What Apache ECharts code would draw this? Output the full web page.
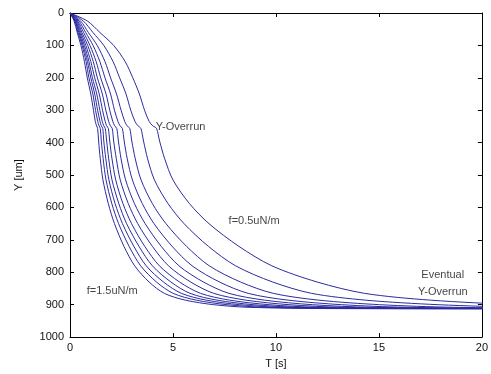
<!DOCTYPE html>
<html>
<head>
<meta charset="utf-8">
<script src="https://cdn.jsdelivr.net/npm/echarts@6/dist/echarts.min.js"></script>
<style>
  html, body { margin: 0; padding: 0; background: #fff; }
  #chart { width: 491px; height: 374px; }
</style>
</head>
<body>
<div id="chart"></div>
<script>
// Y levels (um) shared by all curves, and the time (s) each curve reaches them
const yLevels = [0, 25, 60, 100, 150, 200, 250, 300, 335, 348, 356, 395, 450, 515, 588, 650, 720, 780, 830, 865, 886, 900, 908, 912, 913];

const fValues = [0.5, 0.6, 0.7, 0.8, 0.9, 1.0, 1.1, 1.2, 1.3, 1.4, 1.5];

const tCurves = [
  [0, 0.85, 1.45, 2.12, 2.68, 3.05, 3.37, 3.62, 3.85, 4.02, 4.20, 4.35, 4.60, 5.00, 5.80, 6.75, 8.20, 9.80, 12.00, 14.30, 17.50, 21.80, 27.00, 40.0, 100],
  [0, 0.65, 1.11, 1.64, 2.09, 2.41, 2.72, 2.95, 3.16, 3.30, 3.44, 3.57, 3.77, 4.10, 4.76, 5.54, 6.72, 8.04, 9.84, 11.73, 14.35, 17.88, 22.14, 32.8, 100],
  [0, 0.52, 0.89, 1.32, 1.70, 1.97, 2.26, 2.48, 2.66, 2.77, 2.90, 3.00, 3.17, 3.45, 4.00, 4.66, 5.66, 6.76, 8.28, 9.87, 12.08, 15.04, 18.63, 27.6, 100],
  [0, 0.44, 0.76, 1.12, 1.45, 1.70, 1.97, 2.16, 2.33, 2.43, 2.54, 2.63, 2.78, 3.03, 3.51, 4.08, 4.96, 5.93, 7.26, 8.65, 10.59, 13.19, 16.34, 24.2, 100],
  [0, 0.38, 0.66, 0.97, 1.27, 1.49, 1.75, 1.93, 2.08, 2.17, 2.27, 2.35, 2.48, 2.70, 3.13, 3.65, 4.43, 5.29, 6.48, 7.72, 9.45, 11.77, 14.58, 21.6, 100],
  [0, 0.34, 0.58, 0.86, 1.13, 1.33, 1.57, 1.74, 1.88, 1.96, 2.05, 2.12, 2.25, 2.44, 2.83, 3.29, 4.00, 4.78, 5.86, 6.98, 8.54, 10.64, 13.18, 19.5, 100],
  [0, 0.30, 0.52, 0.77, 1.01, 1.20, 1.42, 1.58, 1.71, 1.78, 1.86, 1.93, 2.04, 2.22, 2.57, 2.99, 3.63, 4.34, 5.32, 6.34, 7.75, 9.66, 11.96, 17.7, 100],
  [0, 0.27, 0.47, 0.70, 0.92, 1.09, 1.30, 1.45, 1.57, 1.64, 1.71, 1.78, 1.88, 2.04, 2.37, 2.75, 3.35, 4.00, 4.90, 5.83, 7.14, 8.89, 11.02, 16.3, 100],
  [0, 0.25, 0.43, 0.64, 0.85, 1.01, 1.20, 1.34, 1.46, 1.52, 1.59, 1.64, 1.74, 1.89, 2.19, 2.55, 3.10, 3.70, 4.54, 5.41, 6.62, 8.24, 10.21, 15.1, 100],
  [0, 0.23, 0.39, 0.59, 0.78, 0.92, 1.11, 1.24, 1.35, 1.41, 1.47, 1.52, 1.61, 1.75, 2.03, 2.36, 2.87, 3.43, 4.20, 5.01, 6.13, 7.63, 9.45, 14.0, 100],
  [0, 0.20, 0.35, 0.53, 0.70, 0.84, 1.01, 1.14, 1.23, 1.29, 1.34, 1.39, 1.47, 1.60, 1.86, 2.16, 2.62, 3.14, 3.84, 4.58, 5.60, 6.98, 8.64, 12.8, 100],
];

// annotations in data coordinates
const noteTexts = ['Y-Overrun', 'f=0.5uN/m', 'f=1.5uN/m', 'Eventual', 'Y-Overrun'];
const noteT = [4.16, 7.7, 0.81, 18.1, 18.1];
const noteY = [352, 643, 858, 809, 862];
const noteAlign = ['left', 'left', 'left', 'center', 'center'];

const lineColor = '#2b2b9f';
const textColor = '#111';
const font = 'Liberation Sans, Arial, Helvetica, sans-serif';

const chart = echarts.init(document.getElementById('chart'));

const curveSeries = tCurves.map((ts, i) => ({
  name: 'f=' + fValues[i],
  type: 'line',
  data: ts.map((t, j) => [t, yLevels[j]]),
  smooth: 0.3,
  symbol: 'none',
  lineStyle: { width: 1, color: lineColor },
  xAxisIndex: 0,
  yAxisIndex: 0,
  silent: true,
  z: 2,
}));

const noteSeries = {
  type: 'scatter',
  symbolSize: 0,
  silent: true,
  xAxisIndex: 0,
  yAxisIndex: 0,
  data: noteTexts.map((txt, i) => ({
    value: [noteT[i], noteY[i]],
    label: {
      show: true,
      formatter: txt,
      position: [0, 0],
      align: noteAlign[i],
      verticalAlign: 'middle',
      fontSize: 11,
      fontFamily: font,
      color: textColor,
    },
  })),
  z: 5,
};

const axisCommon = {
  axisLine: { show: true, onZero: false, lineStyle: { color: '#000', width: 1 } },
  axisTick: { show: true, inside: true, length: 4, lineStyle: { color: '#000' } },
  splitLine: { show: false },
};

const option = {
  animation: false,
  grid: { left: 70, right: 8, top: 13, bottom: 36, containLabel: false },
  xAxis: [
    {
      type: 'value', min: 0, max: 20, interval: 5, position: 'bottom',
      name: 'T [s]', nameLocation: 'middle', nameGap: 20,
      nameTextStyle: { fontSize: 11, fontFamily: font, color: textColor },
      axisLabel: { fontSize: 11, fontFamily: font, color: textColor, margin: 5 },
      ...axisCommon,
    },
    {
      type: 'value', min: 0, max: 20, interval: 5, position: 'top',
      axisLabel: { show: false },
      ...axisCommon,
    },
  ],
  yAxis: [
    {
      type: 'value', min: 0, max: 1000, interval: 100, inverse: true, position: 'left',
      name: 'Y [um]', nameLocation: 'middle', nameGap: 46,
      nameTextStyle: { fontSize: 11, fontFamily: font, color: textColor },
      axisLabel: { fontSize: 11, fontFamily: font, color: textColor, margin: 6, formatter: (v) => String(v) },
      ...axisCommon,
    },
    {
      type: 'value', min: 0, max: 1000, interval: 100, inverse: true, position: 'right',
      axisLabel: { show: false },
      ...axisCommon,
    },
  ],
  series: [...curveSeries, noteSeries],
};

chart.setOption(option);
</script>
</body>
</html>
